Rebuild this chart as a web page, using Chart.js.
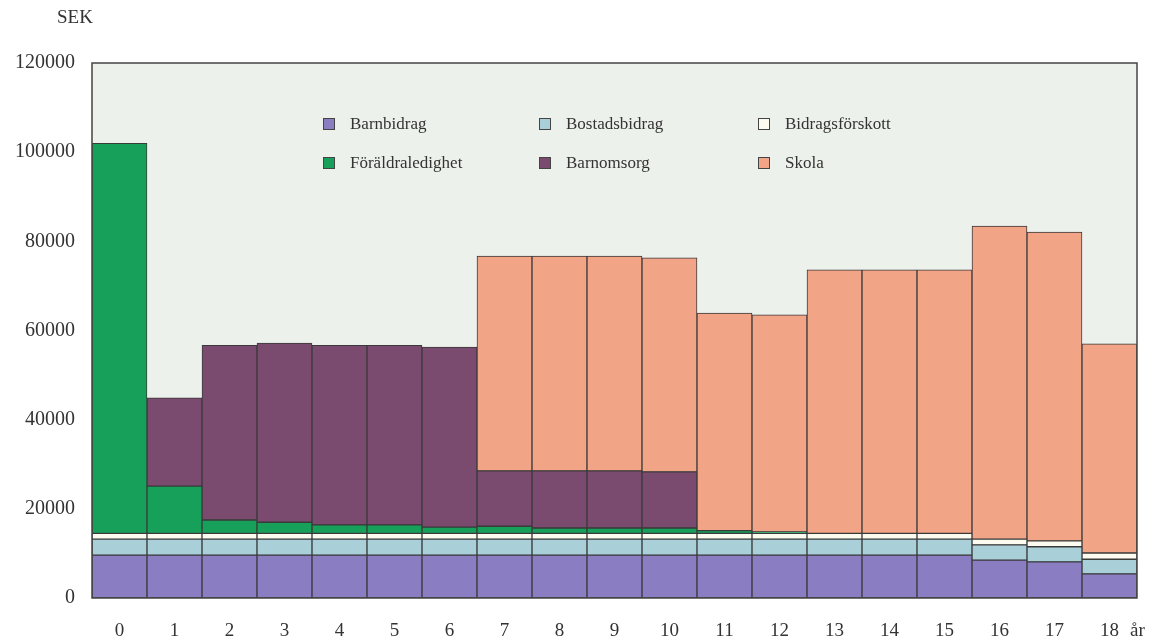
<!DOCTYPE html>
<html>
<head>
<meta charset="utf-8">
<script src="https://cdn.jsdelivr.net/npm/chart.js@4.4.0/dist/chart.umd.min.js"></script>
<style>
  body { margin: 0; background: #fff; }
  canvas { display: block; }
</style>
</head>
<body>
<canvas id="chart" width="1150" height="642"></canvas>
<script>
// ålder (år)
const ages = ['0','1','2','3','4','5','6','7','8','9','10','11','12','13','14','15','16','17','18'];

// SEK per år och barn
const barnbidrag      = [9600,9600,9600,9600,9600,9600,9600,9600,9600,9600,9600,9600,9600,9600,9600,9600,8500,8100,5400];
const bostadsbidrag   = [3600,3600,3600,3600,3600,3600,3600,3600,3600,3600,3600,3600,3600,3600,3600,3600,3400,3400,3300];
const bidragsforskott = [1300,1300,1300,1300,1300,1300,1300,1300,1300,1300,1300,1300,1300,1300,1300,1300,1300,1300,1400];
const foraldraledighet = [87500,10600,3000,2500,1900,1900,1400,1600,1200,1200,1200,600,300,0,0,0,0,0,0];
const barnomsorg      = [0,19800,39200,40200,40300,40300,40400,12400,12800,12800,12600,0,0,0,0,0,0,0,0];
const skola           = [0,0,0,0,0,0,0,48200,48200,48200,48000,48800,48700,59100,59100,59100,70200,69300,46900];

const yTicks = [0, 20000, 40000, 60000, 80000, 100000, 120000];

const FONT = '"Liberation Serif", "Times New Roman", serif';
const INK = '#333';

const plotDecor = {
    id: 'plotDecor',
    beforeDatasetsDraw(chart) {
        const { ctx, chartArea: a } = chart;
        ctx.save();
        ctx.fillStyle = '#edf1eb';
        ctx.fillRect(a.left, a.top, a.right - a.left, a.bottom - a.top);
        ctx.restore();
    },
    afterDraw(chart) {
        const { ctx, chartArea: a } = chart;
        ctx.save();
        ctx.strokeStyle = '#444';
        ctx.lineWidth = 1.5;
        ctx.strokeRect(a.left, a.top, a.right - a.left, a.bottom - a.top);

        ctx.fillStyle = INK;
        ctx.font = '19px ' + FONT;
        ctx.textBaseline = 'middle';
        ctx.textAlign = 'left';
        ctx.fillText('SEK', 57, 18);
        ctx.fillText('år', 1130, 631);

        // legend inside the plot, 3 columns x 2 rows
        ctx.font = '17px ' + FONT;
        const colX = [323, 539, 758];
        const rowY = [124, 163];
        chart.data.datasets.forEach((ds, i) => {
            const x = colX[i % 3];
            const y = rowY[Math.floor(i / 3)];
            ctx.fillStyle = ds.backgroundColor;
            ctx.fillRect(x, y - 6, 12, 12);
            ctx.strokeStyle = '#444';
            ctx.lineWidth = 1;
            ctx.strokeRect(x + 0.5, y - 5.5, 11, 11);
            ctx.fillStyle = INK;
            ctx.fillText(ds.label, x + 27, y + 1);
        });
        ctx.restore();
    }
};

function series(label, data, color) {
    return {
        label: label,
        data: data,
        backgroundColor: color,
        borderColor: '#3a3a3a',
        borderWidth: 1,
        borderSkipped: false
    };
}

new Chart(document.getElementById('chart'), {
    type: 'bar',
    data: {
        labels: ages,
        datasets: [
            series('Barnbidrag', barnbidrag, '#8a7dc2'),
            series('Bostadsbidrag', bostadsbidrag, '#a9d0d8'),
            series('Bidragsförskott', bidragsforskott, '#fbfbf0'),
            series('Föräldraledighet', foraldraledighet, '#16a05a'),
            series('Barnomsorg', barnomsorg, '#7b4a6f'),
            series('Skola', skola, '#f2a487')
        ]
    },
    options: {
        responsive: false,
        animation: false,
        devicePixelRatio: 1,
        layout: { padding: { left: 0, right: 13, top: 63, bottom: 0 } },
        datasets: { bar: { categoryPercentage: 1, barPercentage: 1 } },
        plugins: {
            legend: { display: false },
            tooltip: { enabled: false }
        },
        scales: {
            x: {
                stacked: true,
                grid: { display: false, drawTicks: false },
                border: { display: false },
                ticks: { color: INK, font: { family: FONT, size: 19 }, padding: 22, maxRotation: 0 },
                afterFit(scale) { scale.height = 44; }
            },
            y: {
                stacked: true,
                min: 0,
                max: 120000,
                grid: { display: false, drawTicks: false },
                border: { display: false },
                afterBuildTicks(scale) { scale.ticks = yTicks.map(v => ({ value: v })); },
                ticks: {
                    color: INK,
                    font: { family: FONT, size: 20 },
                    padding: 17,
                    callback: v => String(v)
                },
                afterFit(scale) { scale.width = 92; }
            }
        }
    },
    plugins: [plotDecor]
});
</script>
</body>
</html>
